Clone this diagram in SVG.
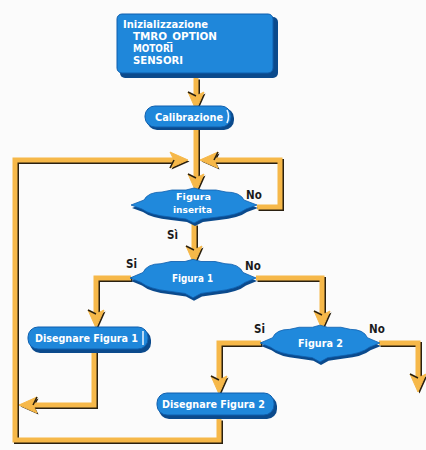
<svg xmlns="http://www.w3.org/2000/svg" width="426" height="450" viewBox="0 0 426 450">
<style>
.box{fill:#1f87da;stroke:#0f5fae;stroke-width:1}
.sh{fill:#0b4a8c}
.t{font-family:"DejaVu Sans Condensed","DejaVu Sans","Liberation Sans",sans-serif;font-weight:bold;fill:#fff;font-size:11px}
.ts{font-size:9.5px}
.lb{font-family:"DejaVu Sans Condensed","DejaVu Sans","Liberation Sans",sans-serif;font-weight:bold;fill:#1a1a1a;font-size:11.5px}
.c{fill:none;stroke:#f6b849;stroke-width:5;stroke-linejoin:miter}
.cs{fill:none;stroke:#2a2010;stroke-width:5;stroke-linejoin:miter}
.hl{fill:none;stroke:#e8f4ff;stroke-width:1.5}
</style>
<defs>
<marker id="ah" markerUnits="userSpaceOnUse" viewBox="-14 -10 28 20" markerWidth="28" markerHeight="20" refX="-4" refY="0" orient="auto">
<path d="M-10,-8 L8,0 L-10,8 L-6,0 Z" fill="#f6b849" stroke="#f6b849" stroke-width="1"/>
<path d="M-6,0 L-10,8" stroke="#2a2010" stroke-width="1.5"/>
</marker>
<marker id="ahs" markerUnits="userSpaceOnUse" viewBox="-14 -10 28 20" markerWidth="28" markerHeight="20" refX="-4" refY="0" orient="auto">
<path d="M-10,-8 L8,0 L-10,8 L-6,0 Z" fill="#2a2010"/>
</marker>
<path id="dec" d="M-63,0 L-50,-5 Q-46,-13 -32,-13 L-22,-15 L-8,-15 L0,-17 L8,-15 L22,-15 L32,-13 Q46,-13 50,-5 L63,0 L52,4 Q44,10 24,12 L8,14 L0,18 L-8,14 L-24,12 Q-44,10 -52,4 Z"/>
</defs>
<rect width="426" height="450" fill="#fbfbfb"/>
<g id="connectors">
<g transform="translate(1.5,1.5)" class="cs">
<path d="M196,78 V98" marker-end="url(#ahs)"/>
<path d="M196,128 V180" marker-end="url(#ahs)"/>
<path d="M257,207 H280 V160 H212" marker-end="url(#ahs)"/>
<path d="M219,419 V440 H15 V160 H176" marker-end="url(#ahs)"/>
<path d="M194,224 V252" marker-end="url(#ahs)"/>
<path d="M131,278 H96 V316" marker-end="url(#ahs)"/>
<path d="M256,278 H322 V317" marker-end="url(#ahs)"/>
<path d="M261,343 H219 V382" marker-end="url(#ahs)"/>
<path d="M379,343 H418 V380" marker-end="url(#ahs)"/>
<path d="M94,351 V405 H31" marker-end="url(#ahs)"/>
</g>
<g class="c">
<path d="M196,78 V98" marker-end="url(#ah)"/>
<path d="M196,128 V180" marker-end="url(#ah)"/>
<path d="M257,207 H280 V160 H212" marker-end="url(#ah)"/>
<path d="M219,419 V440 H15 V160 H176" marker-end="url(#ah)"/>
<path d="M194,224 V252" marker-end="url(#ah)"/>
<path d="M131,278 H96 V316" marker-end="url(#ah)"/>
<path d="M256,278 H322 V317" marker-end="url(#ah)"/>
<path d="M261,343 H219 V382" marker-end="url(#ah)"/>
<path d="M379,343 H418 V380" marker-end="url(#ah)"/>
<path d="M94,351 V405 H31" marker-end="url(#ah)"/>
</g>
</g>
<g id="init">
<rect class="sh" x="120" y="17" width="158" height="61" rx="5"/>
<rect class="box" x="117" y="14" width="156" height="59" rx="5"/>
<text class="t" x="123" y="28" textLength="85" lengthAdjust="spacingAndGlyphs">Inizializzazione</text>
<text class="t" x="133" y="40" textLength="84" lengthAdjust="spacingAndGlyphs">TMRO_OPTION</text>
<text class="t" x="133" y="52" textLength="40" lengthAdjust="spacingAndGlyphs">MOTORI</text>
<text class="t" x="133" y="64" textLength="50" lengthAdjust="spacingAndGlyphs">SENSORI</text>
</g>
<g id="calib">
<rect class="sh" x="147" y="108" width="87" height="22" rx="10"/>
<rect class="box" x="145" y="106" width="86" height="21" rx="10"/>
<path class="hl" d="M227,110 Q230,116 227,123"/>
<text class="t" x="155" y="121" textLength="68" lengthAdjust="spacingAndGlyphs">Calibrazione</text>
</g>
<g id="d_inserita">
<use href="#dec" transform="translate(195,208)" fill="#0b4a8c"/>
<use href="#dec" transform="translate(194,205)" fill="#2089dc" stroke="#0f5fae" stroke-width="0.8"/>
<text class="t ts" x="176" y="200" textLength="35" lengthAdjust="spacingAndGlyphs">Figura</text>
<text class="t ts" x="173" y="213" textLength="39" lengthAdjust="spacingAndGlyphs">inserita</text>
</g>
<g id="d_fig1">
<use href="#dec" transform="translate(194,281) scale(1,1.1)" fill="#0b4a8c"/>
<use href="#dec" transform="translate(193,278) scale(1,1.1)" fill="#2089dc" stroke="#0f5fae" stroke-width="0.8"/>
<text class="t" x="172" y="282" textLength="41" lengthAdjust="spacingAndGlyphs">Figura 1</text>
</g>
<g id="d_fig2">
<use href="#dec" transform="translate(321,346) scale(0.95,1.05)" fill="#0b4a8c"/>
<use href="#dec" transform="translate(320,343) scale(0.95,1.05)" fill="#2089dc" stroke="#0f5fae" stroke-width="0.8"/>
<text class="t" x="298" y="347" textLength="45" lengthAdjust="spacingAndGlyphs">Figura 2</text>
</g>
<g id="dis1">
<rect class="sh" x="30" y="330" width="121" height="23" rx="10"/>
<rect class="box" x="28" y="327" width="120" height="22" rx="10"/>
<path class="hl" d="M143,331 V345"/>
<text class="t" x="35" y="342" textLength="103" lengthAdjust="spacingAndGlyphs">Disegnare Figura 1</text>
</g>
<g id="dis2">
<rect class="sh" x="159" y="396" width="118" height="23" rx="10"/>
<rect class="box" x="157" y="393" width="117" height="22" rx="10"/>
<text class="t" x="162" y="408" textLength="103" lengthAdjust="spacingAndGlyphs">Disegnare Figura 2</text>
</g>
<g id="labels">
<text class="lb" x="246" y="199">No</text>
<text class="lb" x="167" y="239">Sì</text>
<text class="lb" x="126" y="268">Si</text>
<text class="lb" x="245" y="270">No</text>
<text class="lb" x="254" y="333">Si</text>
<text class="lb" x="369" y="333">No</text>
</g>
</svg>
